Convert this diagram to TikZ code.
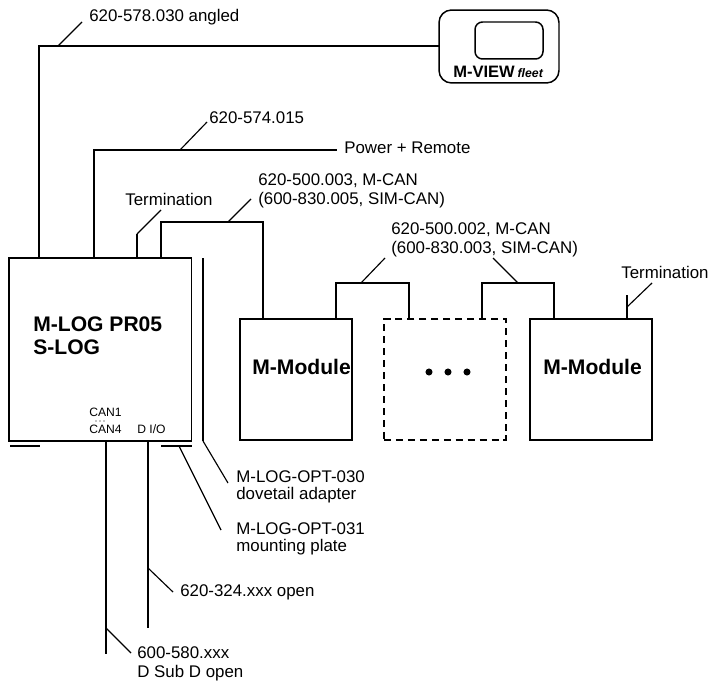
\documentclass[tikz,border=0pt]{standalone}
\usepackage{fontspec}
\setmainfont{Liberation Sans}
\tikzset{
	unitbox/.style={draw,line width=0.85pt,inner sep=0pt},
	lab/.style={anchor=west,inner sep=0pt,font=\fontsize{9.6}{11}\selectfont},
	small/.style={anchor=west,inner sep=0pt,font=\fontsize{6.9}{8}\selectfont},
	title/.style={anchor=west,inner sep=0pt,font=\bfseries\fontsize{12}{14}\selectfont},
	cable/.style={line width=0.95pt},
	leader/.style={line width=0.65pt},
	point/.style={circle,fill=black,inner sep=0pt,minimum size=4pt},
	tinypoint/.style={circle,fill=black,inner sep=0pt,minimum size=0.7pt}
}
\begin{document}
\begin{tikzpicture}[x=0.02cm,y=-0.02cm]
		\useasboundingbox (0,0) rectangle (709,682);
		% boxes
		\node[unitbox,minimum width=3.65cm,minimum height=3.66cm] (log) at (100.2,349.5) {};
		\node[unitbox,minimum width=2.24cm,minimum height=2.42cm] (mod1) at (296,379.5) {};
		\node[unitbox,dash pattern=on 4pt off 2.8pt,minimum width=2.44cm,minimum height=2.42cm] (modx) at (445,379.5) {};
		\node[unitbox,minimum width=2.44cm,minimum height=2.42cm] (mod2) at (591,379.5) {};
		\node[unitbox,rounded corners=2.5mm,minimum width=2.4cm,minimum height=1.46cm] (view) at (499,46.5) {};
		\node[unitbox,rounded corners=1.5mm,minimum width=1.36cm,minimum height=0.74cm] (screen) at (509,40.5) {};
		% box texts
		\node[title] (logtxt1) at (33,324) {M-LOG PR05};
		\node[title] (logtxt2) at (33,347) {S-LOG};
		\node[title] (modtxt1) at (252,367) {M-Module};
		\node[title] (modtxt2) at (543,367) {M-Module};
		\node[point] (dot1) at (429,372) {};
		\node[point] (dot2) at (448,372) {};
		\node[point] (dot3) at (467,372) {};
		\node[anchor=west,inner sep=0pt] (viewtxt) at (453,72) {\bfseries\fontsize{9.4}{10}\selectfont M-VIEW\,{\fontsize{7}{8}\selectfont\itshape fleet}};
		\node[small] (can1) at (89,412) {CAN1};
		\node[small] (can4) at (89,429) {CAN4};
		\node[tinypoint] (cand1) at (96,421) {};
		\node[tinypoint] (cand2) at (100,421) {};
		\node[tinypoint] (cand3) at (104,421) {};
		\node[small] (dio) at (137,429) {D I/O};
		% labels
		\node[lab] (l1) at (89,17) {620-578.030 angled};
		\node[lab] (l2) at (209,118) {620-574.015};
		\node[lab] (l3) at (344,148) {Power + Remote};
		\node[lab] (l4) at (125,199) {Termination};
		\node[lab] (l5) at (258,181) {620-500.003, M-CAN};
		\node[lab] (l6) at (258,200) {(600-830.005, SIM-CAN)};
		\node[lab] (l7) at (391,230) {620-500.002, M-CAN};
		\node[lab] (l8) at (391,249) {(600-830.003, SIM-CAN)};
		\node[lab] (l9) at (621,272) {Termination};
		\node[lab] (l10) at (236,477) {M-LOG-OPT-030};
		\node[lab] (l11) at (236,495) {dovetail adapter};
		\node[lab] (l12) at (236,529) {M-LOG-OPT-031};
		\node[lab] (l13) at (236,547) {mounting plate};
		\node[lab] (l14) at (180,592) {620-324.xxx open};
		\node[lab] (l15) at (137,653) {600-580.xxx};
		\node[lab] (l16) at (137,673) {D Sub D open};
		% cables
		\coordinate (a1) at (39,258);
		\coordinate (a2) at (39,46);
		\coordinate (a3) at (439,46);
		\coordinate (a4) at (58,46);
		\coordinate (a5) at (82,22);
		\draw[cable] (a1) to (a2) to (a3);
		\draw[leader] (a4) to (a5);
		\coordinate (b1) at (94,258);
		\coordinate (b2) at (94,150);
		\coordinate (b3) at (337,150);
		\coordinate (b4) at (180,150);
		\coordinate (b5) at (207,122);
		\draw[cable] (b1) to (b2) to (b3);
		\draw[leader] (b4) to (b5);
		\coordinate (c1) at (137,258);
		\coordinate (c2) at (137,234);
		\coordinate (c3) at (161,210);
		\draw[cable] (c1) to (c2);
		\draw[leader] (c2) to (c3);
		\coordinate (d1) at (161,258);
		\coordinate (d2) at (161,222);
		\coordinate (d3) at (263,222);
		\coordinate (d4) at (263,319);
		\coordinate (d5) at (228,222);
		\coordinate (d6) at (251,199);
		\draw[cable] (d1) to (d2) to (d3) to (d4);
		\draw[leader] (d5) to (d6);
		\coordinate (e1) at (336,319);
		\coordinate (e2) at (336,283);
		\coordinate (e3) at (409,283);
		\coordinate (e4) at (409,319);
		\coordinate (e5) at (361,283);
		\coordinate (e6) at (385,258);
		\draw[cable] (e1) to (e2) to (e3) to (e4);
		\draw[leader] (e5) to (e6);
		\coordinate (f1) at (482,319);
		\coordinate (f2) at (482,283);
		\coordinate (f3) at (554,283);
		\coordinate (f4) at (554,319);
		\coordinate (f5) at (518,283);
		\coordinate (f6) at (493,258);
		\draw[cable] (f1) to (f2) to (f3) to (f4);
		\draw[leader] (f5) to (f6);
		\coordinate (g1) at (627,319);
		\coordinate (g2) at (627,295);
		\coordinate (g3) at (627,307);
		\coordinate (g4) at (652,283);
		\draw[cable] (g1) to (g2);
		\draw[leader] (g3) to (g4);
		% adapter and plate
		\coordinate (h1) at (203,258);
		\coordinate (h2) at (203,441);
		\coordinate (h3) at (228,483);
		\draw[cable] (h1) to (h2);
		\draw[leader] (h2) to (h3);
		\coordinate (i1) at (10,446);
		\coordinate (i2) at (40,446);
		\coordinate (i3) at (161,446);
		\coordinate (i4) at (192,446);
		\coordinate (i5) at (179,446);
		\coordinate (i6) at (221,530);
		\draw[cable] (i1) to (i2) (i3) to (i4);
		\draw[leader] (i5) to (i6);
		% lower cables
		\coordinate (j1) at (106,441);
		\coordinate (j2) at (106,654);
		\coordinate (j3) at (106,628);
		\coordinate (j4) at (131,653);
		\draw[cable] (j1) to (j2);
		\draw[leader] (j3) to (j4);
		\coordinate (k1) at (148,441);
		\coordinate (k2) at (148,628);
		\coordinate (k3) at (148,568);
		\coordinate (k4) at (173,592);
		\draw[cable] (k1) to (k2);
		\draw[leader] (k3) to (k4);
	\end{tikzpicture}
\end{document}
